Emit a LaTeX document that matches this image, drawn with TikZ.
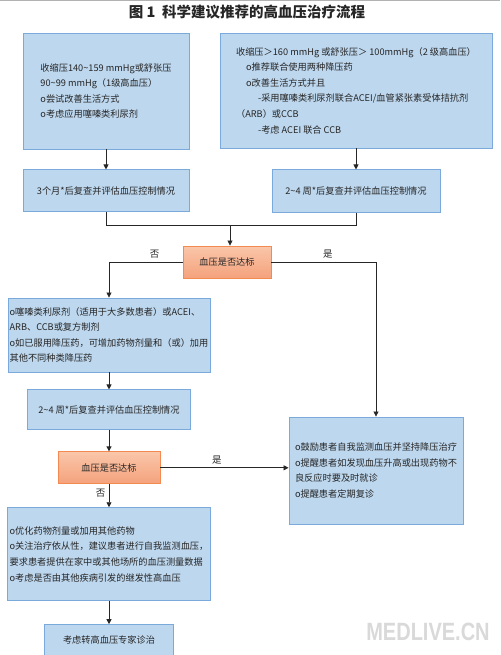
\documentclass[tikz,border=0pt]{standalone}
\usepackage{fontspec}
\setmainfont{Noto Sans CJK SC}
\newfontfamily\markfont{Liberation Sans}
\usetikzlibrary{positioning, arrows.meta}

\definecolor{boxfill}{HTML}{BDD7EE}
\definecolor{boxline}{HTML}{7AAADC}
\definecolor{chktop}{HTML}{FAC6AA}
\definecolor{chkbot}{HTML}{F4A27C}
\definecolor{chkline}{HTML}{F28A52}
\definecolor{ink}{HTML}{262626}

\newcommand{\itemo}{o}

\tikzset{
  box/.style={draw=boxline, fill=boxfill, line width=0.9pt, align=left, inner sep=0pt,
    text=ink, font=\fontsize{9.2}{15.6}\selectfont},
  check/.style={draw=chkline, top color=chktop, bottom color=chkbot, line width=0.9pt,
    minimum width=88pt, minimum height=32pt, text=ink, font=\fontsize{9.2}{11}\selectfont},
  link/.style={draw=ink, line width=0.8pt, -{Triangle[length=5pt,width=5pt]}},
  joint/.style={draw=ink, line width=0.8pt},
  answer/.style={text=ink, font=\fontsize{9.5}{11}\selectfont},
}

\begin{document}
\begin{tikzpicture}[x=1pt, y=-1pt]
   \useasboundingbox (0,0) rectangle (500,655);
   \draw[gray!60, line width=1pt] (0,0.5) -- (500,0.5);

   % 标题
   \node[text=ink, font=\fontsize{14.5}{16}\selectfont\bfseries] (title) at (247,12)
     {图 1\ \ 科学建议推荐的高血压治疗流程};

   % 两种分级
   \node[box, minimum width=166pt, minimum height=116pt] (grade1) at (106,91)
     {收缩压140\textasciitilde159 mmHg或舒张压\\
      90\textasciitilde99 mmHg（1级高血压）\\
      \itemo 尝试改善生活方式\\
      \itemo 考虑应用噻嗪类利尿剂};
   \node[box, minimum width=272pt, minimum height=115pt] (grade2) at (356,90.5)
     {收缩压＞160 mmHg 或舒张压＞ 100mmHg（2 级高血压）\\
      \hspace*{10pt}\itemo 推荐联合使用两种降压药\\
      \hspace*{10pt}\itemo 改善生活方式并且\\
      \hspace*{22pt}-采用噻嗪类利尿剂联合ACEI/血管紧张素受体拮抗剂\\
      （ARB）或CCB\\
      \hspace*{22pt}-考虑 ACEI 联合 CCB};
   \node[box, minimum width=166pt, minimum height=42pt] (recheck1) [below=20pt of grade1]
     {3个月*后复查并评估血压控制情况};
   \node[box, minimum width=168pt, minimum height=43pt] (recheck2) [below=21pt of grade2]
     {2\textasciitilde4 周*后复查并评估血压控制情况};

   % 第一次判断
   \node[check] (goal1) at (227,262) {血压是否达标};
   \coordinate (join) at (230,225);

   \node[box, minimum width=202pt, minimum height=74pt] (drug) at (109,335)
     {\itemo 噻嗪类利尿剂（适用于大多数患者）或ACEI、\\
      ARB、CCB或复方制剂\\
      \itemo 如已服用降压药，可增加药物剂量和（或）加用\\
      其他不同种类降压药};
   \node[box, minimum width=163pt, minimum height=40pt] (recheck3) [below=17pt of drug]
     {2\textasciitilde4 周*后复查并评估血压控制情况};
   \node[check, minimum width=102pt] (goal2) [below=21pt of recheck3] {血压是否达标};
   \node[box, minimum width=203pt, minimum height=93pt] (adjust) [below=23pt of goal2]
     {\itemo 优化药物剂量或加用其他药物\\
      \itemo 关注治疗依从性，建议患者进行自我监测血压，\\
      要求患者提供在家中或其他场所的血压测量数据\\
      \itemo 考虑是否由其他疾病引发的继发性高血压};
   \node[box, minimum width=129pt, minimum height=31pt] (expert) [below=23pt of adjust]
     {考虑转高血压专家诊治};
   \node[box, minimum width=174pt, minimum height=107pt] (keep) at (376,470.5)
     {\itemo 鼓励患者自我监测血压并坚持降压治疗\\
      \itemo 提醒患者如发现血压升高或出现药物不\\
      良反应时要及时就诊\\
      \itemo 提醒患者定期复诊};

   % 连线
   \draw[link] (grade1) -- (recheck1);
   \draw[link] (grade2) -- (recheck2);
   \draw[joint] (recheck1.south) |- (join);
   \draw[joint] (recheck2.south) |- (join);
   \draw[link] (join) -- (join |- goal1.north);
   \draw[link] (goal1.west) -| node[answer, above, pos=0.19] {否} (drug.north);
   \draw[link] (goal1.east) -| node[answer, above, pos=0.27] {是} (keep.north);
   \draw[link] (drug) -- (recheck3);
   \draw[link] (recheck3) -- (goal2);
   \draw[link] (goal2.east) -- node[answer, above, pos=0.44] {是} (goal2.east -| keep.west);
   \draw[link] (goal2) -- node[answer, left, pos=0.4] {否} (adjust);
   \draw[link] (adjust) -- (expert);

   \node[text=gray!30, font=\markfont\fontsize{25}{25}\selectfont\bfseries] (mark) at (428,632)
     {\scalebox{0.8}[1]{MEDLIVE.CN}};
\end{tikzpicture}
\end{document}
